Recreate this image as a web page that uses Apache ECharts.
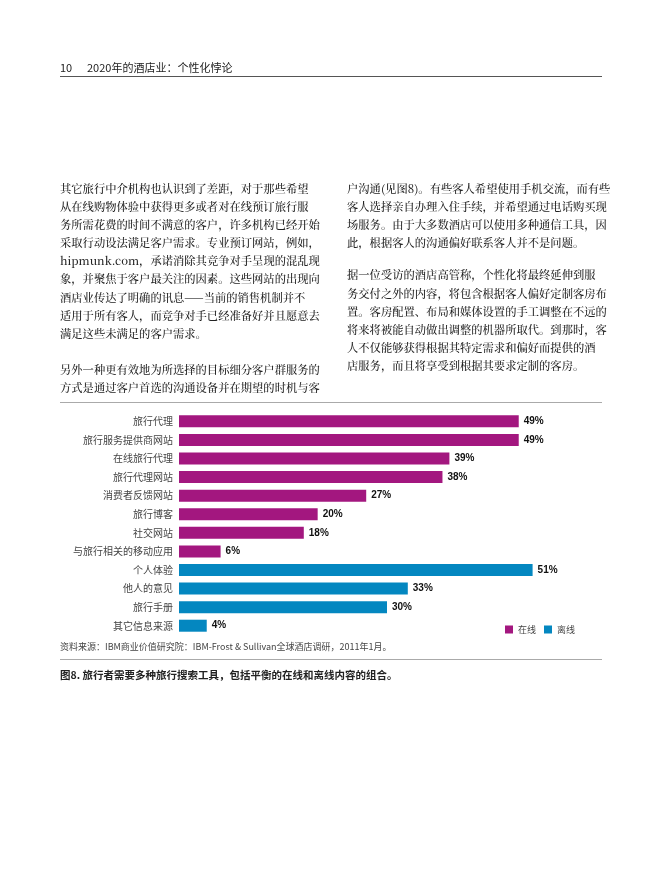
<!DOCTYPE html>
<html><head><meta charset="utf-8">
<script src="https://cdn.jsdelivr.net/npm/echarts@6/dist/echarts.min.js"></script>
<style>html,body{margin:0;background:#fff}#main{width:650px;height:882px}</style>
</head><body><div id="main"></div>
<script>
// 旅行搜索工具 数据
var categories = ['旅行代理','旅行服务提供商网站','在线旅行代理','旅行代理网站','消费者反馈网站','旅行博客','社交网站','与旅行相关的移动应用','个人体验','他人的意见','旅行手册','其它信息来源']
var onlineVals = [49,49,39,38,27,20,18,6,'-','-','-','-']
var offlineVals = ['-','-','-','-','-','-','-','-',51,33,30,4]

var leftLines = ['其它旅行中介机构也认识到了差距，对于那些希望','从在线购物体验中获得更多或者对在线预订旅行服','务所需花费的时间不满意的客户，许多机构已经开始','采取行动设法满足客户需求。专业预订网站，例如，','hipmunk.com，承诺消除其竞争对手呈现的混乱现','象，并聚焦于客户最关注的因素。这些网站的出现向','酒店业传达了明确的讯息——当前的销售机制并不','适用于所有客人，而竞争对手已经准备好并且愿意去','满足这些未满足的客户需求。','','另外一种更有效地为所选择的目标细分客户群服务的','方式是通过客户首选的沟通设备并在期望的时机与客']
var rightLines = ['户沟通(见图8)。有些客人希望使用手机交流，而有些','客人选择亲自办理入住手续，并希望通过电话购买现','场服务。由于大多数酒店可以使用多种通信工具，因','此，根据客人的沟通偏好联系客人并不是问题。','','据一位受访的酒店高管称，个性化将最终延伸到服','务交付之外的内容，将包含根据客人偏好定制客房布','置。客房配置、布局和媒体设置的手工调整在不远的','将来将被能自动做出调整的机器所取代。到那时，客','人不仅能够获得根据其特定需求和偏好而提供的酒','店服务，而且将享受到根据其要求定制的客房。']

var chart = echarts.init(document.getElementById('main'))
var ff = '"Noto Sans CJK SC", sans-serif'
var graphics = [
    {type:'text',left:60,top:62,style:{text:'10      2020年的酒店业：个性化悖论',font:'11px "Noto Sans CJK SC"',fill:'#222'}},
    {type:'rect',shape:{x:60,y:76,width:542,height:1},style:{fill:'#555'}},
    {type:'rect',shape:{x:60,y:402,width:542,height:1},style:{fill:'#aaa'}},
    {type:'rect',shape:{x:60,y:659,width:542,height:1},style:{fill:'#aaa'}},
    {type:'text',left:60,top:642,style:{text:'资料来源：IBM商业价值研究院：IBM-Frost & Sullivan全球酒店调研，2011年1月。',font:'9px "Noto Sans CJK SC"',fill:'#444'}},
    {type:'text',left:60,top:670,style:{text:'图8. 旅行者需要多种旅行搜索工具，包括平衡的在线和离线内容的组合。',font:'bold 10.5px "Noto Sans CJK SC"',fill:'#222'}}
]
var y0 = 183
leftLines.forEach(function(t,i){
    if(t) graphics.push({type:'text',left:60,top:y0+i*18.1,style:{text:t,font:'500 11.3px "Noto Serif CJK SC","Noto Sans CJK SC"',fill:'#222'}})
})
rightLines.forEach(function(t,i){
    if(t) graphics.push({type:'text',left:347,top:y0+i*18.1+(i>4?-4:0),style:{text:t,font:'500 11.3px "Noto Serif CJK SC","Noto Sans CJK SC"',fill:'#222'}})
})

option = {
    animation:false,
    graphic: graphics,
    legend: {
        data:['在线','离线'],
        right: 70,
        top: 620,
        itemWidth: 8,
        itemHeight: 8,
        itemGap: 8,
        icon: 'rect',
        textStyle:{fontSize:9,color:'#444',fontFamily:ff}
    },
    grid: {left:179,right:55,top:412,bottom:247},
    xAxis: {type:'value',min:0,max:60,show:false},
    yAxis: {
        type:'category',
        inverse:true,
        data:categories,
        axisLine:{show:false},
        axisTick:{show:false},
        axisLabel:{fontSize:10,color:'#444',fontFamily:ff,margin:6}
    },
    series: [
        {name:'在线',type:'bar',stack:'a',data:onlineVals,barWidth:12,
         itemStyle:{color:'#A3177F'},
         label:{show:true,position:'right',formatter:'{c}%',fontWeight:'bold',fontSize:10,color:'#111',fontFamily:'Arial, sans-serif'}},
        {name:'离线',type:'bar',stack:'a',data:offlineVals,barWidth:12,
         itemStyle:{color:'#0487C0'},
         label:{show:true,position:'right',formatter:'{c}%',fontWeight:'bold',fontSize:10,color:'#111',fontFamily:'Arial, sans-serif'}}
    ]
}
chart.setOption(option)
</script>
</body></html>
